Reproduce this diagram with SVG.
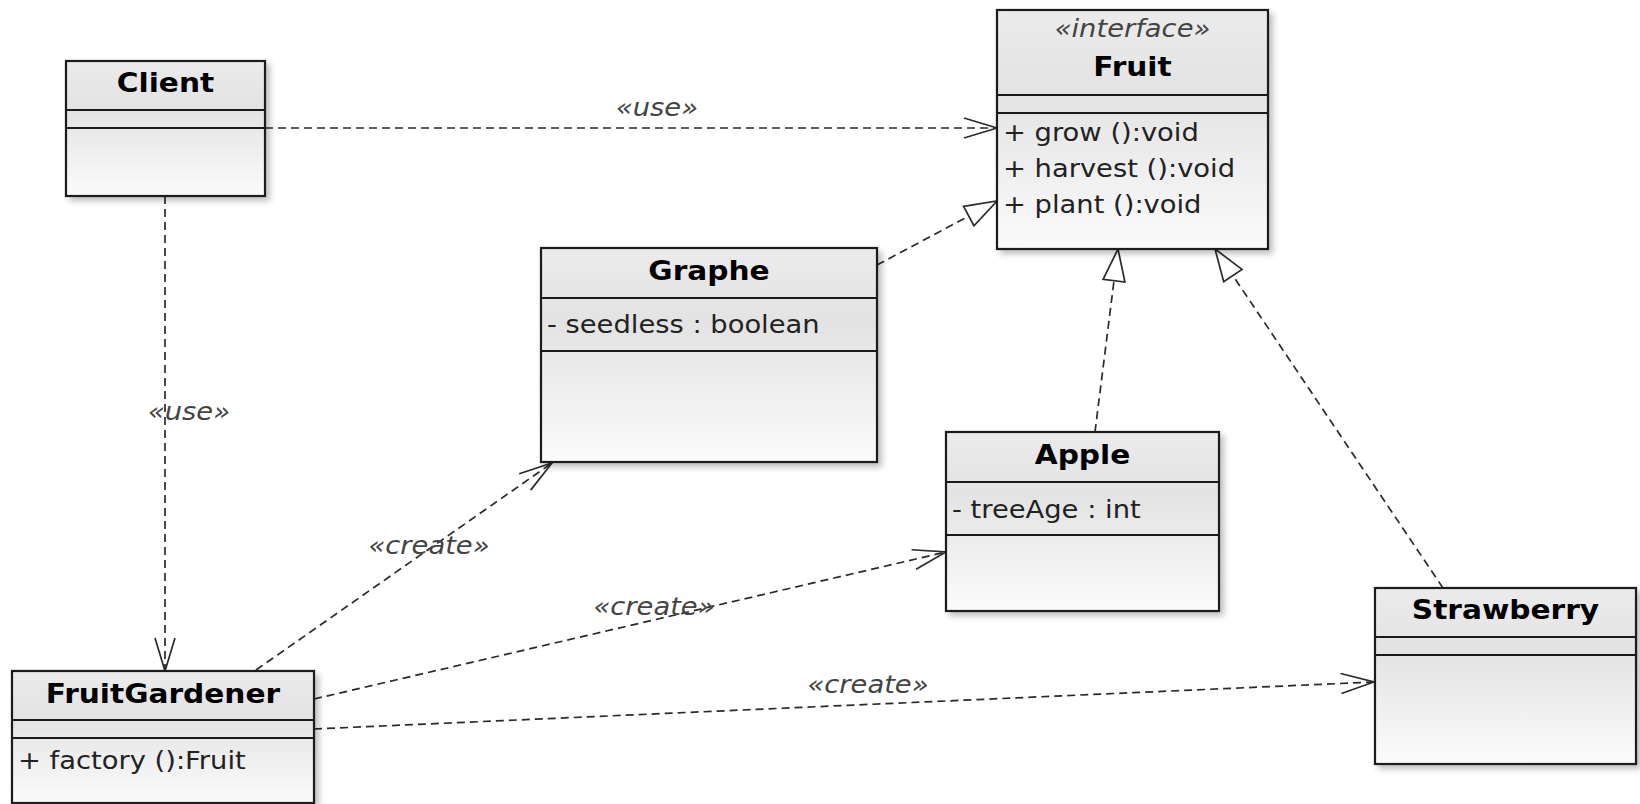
<svg xmlns="http://www.w3.org/2000/svg" width="1640" height="804" viewBox="0 0 1640 804">
  <style>
    .box { fill: url(#boxFill); stroke: #1a1a1a; stroke-width: 2.2; filter: url(#shadow); }
    .sep { stroke: #1a1a1a; stroke-width: 2; }
    .name { font-family: "DejaVu Sans", Verdana, sans-serif; font-weight: bold; font-size: 26px; fill: #000; text-anchor: middle;
            transform-box: fill-box; transform-origin: 50% 50%; transform: scaleX(1.14); }
    .stereo { font-family: "DejaVu Sans", Verdana, sans-serif; font-style: italic; font-size: 24px; fill: #444; text-anchor: middle;
              transform-box: fill-box; transform-origin: 50% 50%; transform: scaleX(1.14); }
    .member { font-family: "DejaVu Sans", Verdana, sans-serif; font-size: 24px; fill: #222;
              transform-box: fill-box; transform-origin: 0 50%; transform: scaleX(1.14); }
    .lbl { font-family: "DejaVu Sans", Verdana, sans-serif; font-style: italic; font-size: 24px; fill: #444; text-anchor: middle;
           transform-box: fill-box; transform-origin: 50% 50%; transform: scaleX(1.14); }
    .dep { fill: none; stroke: #2a2a2a; stroke-width: 1.7; stroke-dasharray: 8 5; }
  </style>
  <defs>
    <linearGradient id="boxFill" x1="0" y1="0" x2="0" y2="1">
      <stop offset="0" stop-color="#ebebeb"/>
      <stop offset="0.35" stop-color="#e3e3e3"/>
      <stop offset="1" stop-color="#fbfbfb"/>
    </linearGradient>
    <filter id="shadow" x="-10%" y="-10%" width="125%" height="125%">
      <feGaussianBlur in="SourceAlpha" stdDeviation="3"/>
      <feOffset dx="4" dy="4" result="b"/>
      <feComponentTransfer><feFuncA type="linear" slope="0.25"/></feComponentTransfer>
      <feMerge><feMergeNode/><feMergeNode in="SourceGraphic"/></feMerge>
    </filter>
    <marker id="open" markerUnits="userSpaceOnUse" viewBox="-36 -13 38 26" markerWidth="38" markerHeight="26" refX="0" refY="0" orient="auto">
      <path d="M-33,-10 L0,0 L-33,10" fill="none" stroke="#2a2a2a" stroke-width="1.7"/>
    </marker>
    <marker id="realize" markerUnits="userSpaceOnUse" viewBox="-36 -14 38 28" markerWidth="38" markerHeight="28" refX="0" refY="0" orient="auto">
      <path d="M-32,-11 L0,0 L-32,11 Z" fill="#fff" stroke="#2a2a2a" stroke-width="1.7"/>
    </marker>
  </defs>

  <rect width="1640" height="804" fill="#fff"/>

  <!-- dependencies and realizations -->
  <g id="connectors">
    <path class="dep" d="M265,128 L997,128" marker-end="url(#open)"/>
    <text class="lbl" x="657" y="116">«use»</text>

    <path class="dep" d="M165,196 L165,671" marker-end="url(#open)"/>
    <text class="lbl" x="189" y="420">«use»</text>

    <path class="dep" d="M877,265 L997,201" marker-end="url(#realize)"/>
    <path class="dep" d="M1095,432 L1118,249" marker-end="url(#realize)"/>
    <path class="dep" d="M1443,588 L1215,249" marker-end="url(#realize)"/>

    <path class="dep" d="M256,670 L552,463" marker-end="url(#open)"/>
    <text class="lbl" x="429" y="554">«create»</text>

    <path class="dep" d="M314,699 L946,552" marker-end="url(#open)"/>
    <text class="lbl" x="654" y="615">«create»</text>

    <path class="dep" d="M314,729 L1374,682" marker-end="url(#open)"/>
    <text class="lbl" x="868" y="693">«create»</text>
  </g>

  <g id="client">
    <rect class="box" x="66" y="61" width="199" height="135"/>
    <line class="sep" x1="66" y1="110" x2="265" y2="110"/>
    <line class="sep" x1="66" y1="128" x2="265" y2="128"/>
    <text class="name" x="165.5" y="92">Client</text>
  </g>

  <g id="fruit">
    <rect class="box" x="997" y="10" width="271" height="239"/>
    <line class="sep" x1="997" y1="95" x2="1268" y2="95"/>
    <line class="sep" x1="997" y1="113" x2="1268" y2="113"/>
    <text class="stereo" x="1132.5" y="37">«interface»</text>
    <text class="name" x="1132.5" y="76">Fruit</text>
    <text class="member" x="1003" y="141">+ grow ():void</text>
    <text class="member" x="1003" y="177">+ harvest ():void</text>
    <text class="member" x="1003" y="213">+ plant ():void</text>
  </g>

  <g id="graphe">
    <rect class="box" x="541" y="248" width="336" height="214"/>
    <line class="sep" x1="541" y1="298" x2="877" y2="298"/>
    <line class="sep" x1="541" y1="351" x2="877" y2="351"/>
    <text class="name" x="709" y="280">Graphe</text>
    <text class="member" x="547" y="333">- seedless : boolean</text>
  </g>

  <g id="apple">
    <rect class="box" x="946" y="432" width="273" height="179"/>
    <line class="sep" x1="946" y1="482" x2="1219" y2="482"/>
    <line class="sep" x1="946" y1="535" x2="1219" y2="535"/>
    <text class="name" x="1082.5" y="464">Apple</text>
    <text class="member" x="952" y="518">- treeAge : int</text>
  </g>

  <g id="strawberry">
    <rect class="box" x="1375" y="588" width="261" height="176"/>
    <line class="sep" x1="1375" y1="637" x2="1636" y2="637"/>
    <line class="sep" x1="1375" y1="655" x2="1636" y2="655"/>
    <text class="name" x="1505.5" y="619">Strawberry</text>
  </g>

  <g id="fruitGardener">
    <rect class="box" x="12" y="671" width="302" height="132"/>
    <line class="sep" x1="12" y1="720" x2="314" y2="720"/>
    <line class="sep" x1="12" y1="738" x2="314" y2="738"/>
    <text class="name" x="163" y="703">FruitGardener</text>
    <text class="member" x="18" y="769">+ factory ():Fruit</text>
  </g>
</svg>
